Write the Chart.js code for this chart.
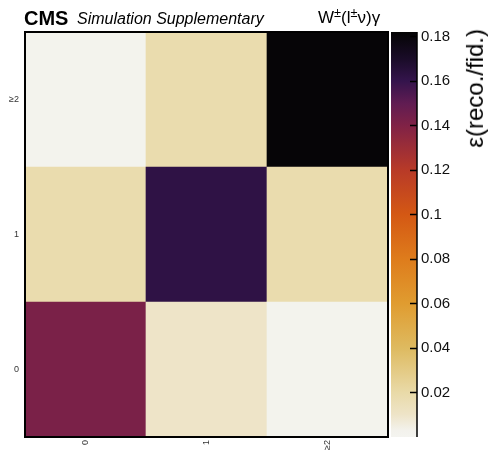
<!DOCTYPE html>
<html>
<head>
<meta charset="utf-8">
<script src="https://cdn.jsdelivr.net/npm/chart.js@4.4.1/dist/chart.umd.min.js"></script>
<style>
  body { margin: 0; background: #fff; }
  #wrap { position: relative; width: 492px; height: 451px; font-family: "Liberation Sans", Arial, sans-serif; }
  #wrap canvas { position: absolute; left: 0; top: 0; }
  .txt { position: absolute; white-space: nowrap; color: #000; }
  sup { font-size: 75%; vertical-align: 0.45em; line-height: 0; }
</style>
</head>
<body>
<div id="wrap">
  <canvas id="heat" width="492" height="451"></canvas>
  <canvas id="bar" width="492" height="451"></canvas>
  <div class="txt" style="left:24px;top:7px;font-size:20px;font-weight:bold;line-height:22px;">CMS</div>
  <div class="txt" style="left:77px;top:10px;font-size:16px;font-style:italic;line-height:18px;">Simulation Supplementary</div>
  <div class="txt" style="left:318px;top:9px;font-size:17px;line-height:18px;">W<sup>±</sup>(l<sup>±</sup>ν)γ</div>
  <div class="txt" style="left:462px;top:29px;font-size:24px;line-height:26px;writing-mode:vertical-rl;transform:rotate(180deg);">ε(reco./fid.)</div>
</div>
<script>
// bins of the two axes
var xLabels = ['0', '1', '≥2'];
var yLabels = ['0', '1', '≥2'];
// efficiency per row (y bin), one value per x bin
var effRow0 = [0.142, 0.010, 0.002];
var effRow1 = [0.018, 0.162, 0.018];
var effRow2 = [0.002, 0.018, 0.181];
var effRows = [effRow0, effRow1, effRow2];
// colour scale
var zMin = 0, zMax = 0.182;
var zTicks = [0.02, 0.04, 0.06, 0.08, 0.1, 0.12, 0.14, 0.16, 0.18];

// palette (value -> colour)
var palette = [
  [0.000, [244, 244, 240]],
  [0.003, [243, 242, 236]],
  [0.010, [238, 228, 200]],
  [0.020, [233, 218, 168]],
  [0.040, [222, 186, 96]],
  [0.060, [224, 156, 48]],
  [0.080, [222, 124, 28]],
  [0.100, [212, 88, 20]],
  [0.120, [184, 58, 40]],
  [0.140, [128, 34, 70]],
  [0.150, [96, 28, 82]],
  [0.160, [52, 20, 76]],
  [0.170, [26, 12, 40]],
  [0.182, [4, 4, 4]]
];

function colorFor(v) {
  if (v <= palette[0][0]) return 'rgb(' + palette[0][1].join(',') + ')';
  for (var i = 1; i < palette.length; i++) {
    if (v <= palette[i][0]) {
      var a = palette[i - 1], b = palette[i];
      var t = (v - a[0]) / (b[0] - a[0]);
      var c = a[1].map(function (x, k) { return Math.round(x + (b[1][k] - x) * t); });
      return 'rgb(' + c.join(',') + ')';
    }
  }
  return 'rgb(' + palette[palette.length - 1][1].join(',') + ')';
}

var frame = {
  id: 'frame',
  afterDraw: function (chart) {
    var a = chart.chartArea, c = chart.ctx;
    c.save();
    c.strokeStyle = '#000';
    c.lineWidth = 2;
    c.strokeRect(a.left, a.top, a.right - a.left, a.bottom - a.top);
    c.restore();
  }
};

// heat map: one stacked bar per row, each cell height 1
new Chart(document.getElementById('heat'), {
  type: 'bar',
  data: {
    labels: xLabels,
    datasets: effRows.map(function (row, i) {
      return {
        label: yLabels[i],
        data: row.map(function () { return 1; }),
        backgroundColor: row.map(colorFor),
        borderWidth: 0,
        barPercentage: 1,
        categoryPercentage: 1
      };
    })
  },
  options: {
    responsive: false,
    animation: false,
    layout: { padding: { left: 0, top: 32, right: 104, bottom: 0 } },
    plugins: { legend: { display: false }, tooltip: { enabled: false } },
    scales: {
      x: {
        stacked: true,
        grid: { display: false, drawTicks: false },
        border: { display: false },
        ticks: { minRotation: 90, maxRotation: 90, padding: 3, color: '#333', font: { family: 'Liberation Sans', size: 9 } },
        afterFit: function (s) { s.height = 14; }
      },
      y: {
        stacked: true,
        min: 0, max: yLabels.length,
        grid: { display: false, drawTicks: false },
        border: { display: false },
        afterBuildTicks: function (s) { s.ticks = yLabels.map(function (l, i) { return { value: i + 0.5 }; }); },
        ticks: {
          padding: 6, color: '#333', font: { family: 'Liberation Sans', size: 9 },
          callback: function (v) { return yLabels[Math.floor(v)]; }
        },
        afterFit: function (s) { s.width = 25; }
      }
    }
  },
  plugins: [frame]
});

// colour bar
var zTickMarks = {
  id: 'zTickMarks',
  afterDraw: function (chart) {
    var a = chart.chartArea, c = chart.ctx, s = chart.scales.y;
    c.save();
    c.strokeStyle = '#000';
    c.lineWidth = 1.5;
    c.beginPath();
    c.moveTo(a.right, a.top);
    c.lineTo(a.right, a.bottom);
    zTicks.forEach(function (t) {
      var y = Math.round(s.getPixelForValue(t)) + 0.5;
      c.moveTo(a.right - 7, y);
      c.lineTo(a.right, y);
    });
    c.stroke();
    c.restore();
  }
};

new Chart(document.getElementById('bar'), {
  type: 'bar',
  data: {
    labels: [''],
    datasets: [{
      data: [[zMin, zMax]],
      barPercentage: 1,
      categoryPercentage: 1,
      borderWidth: 0,
      backgroundColor: function (ctx) {
        var a = ctx.chart.chartArea;
        if (!a) return '#fff';
        var g = ctx.chart.ctx.createLinearGradient(0, a.bottom, 0, a.top);
        palette.forEach(function (p) { g.addColorStop(Math.min(1, (p[0] - zMin) / (zMax - zMin)), colorFor(p[0])); });
        return g;
      }
    }]
  },
  options: {
    responsive: false,
    animation: false,
    layout: { padding: { left: 391, top: 32, right: 30, bottom: 14 } },
    plugins: { legend: { display: false }, tooltip: { enabled: false } },
    scales: {
      x: { display: false },
      y: {
        position: 'right',
        min: zMin, max: zMax,
        grid: { display: false, drawTicks: false },
        border: { display: false },
        afterBuildTicks: function (s) { s.ticks = zTicks.map(function (t) { return { value: t }; }); },
        ticks: {
          padding: 4, color: '#111', font: { family: 'Liberation Sans', size: 15 },
          callback: function (v) { return String(+v.toFixed(2)); }
        },
        afterFit: function (s) { s.width = 45; }
      }
    }
  },
  plugins: [zTickMarks]
});
</script>
</body>
</html>
